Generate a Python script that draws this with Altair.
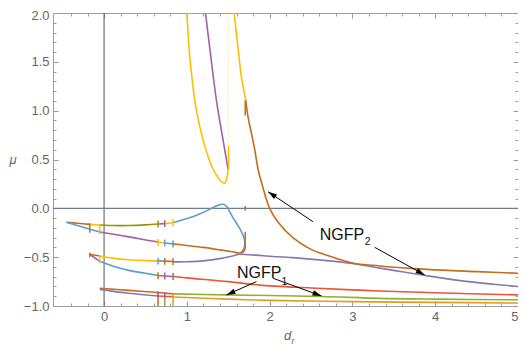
import math
import pandas as pd
import altair as alt

# ---------------- frame / ticks ----------------
X_DOMAIN = [-0.617, 5.0]
Y_DOMAIN = [-1.0, 2.0]
x_major = [0, 1, 2, 3, 4, 5]
x_minor = [-0.4, -0.2, 0.2, 0.4, 0.6, 0.8, 1.2, 1.4, 1.6, 1.8, 2.2, 2.4, 2.6, 2.8,
           3.2, 3.4, 3.6, 3.8, 4.2, 4.4, 4.6, 4.8]
y_major = [-1.0, -0.5, 0.0, 0.5, 1.0, 1.5, 2.0]
y_minor = [-0.9, -0.8, -0.7, -0.6, -0.4, -0.3, -0.2, -0.1, 0.1, 0.2, 0.3, 0.4,
           0.6, 0.7, 0.8, 0.9, 1.1, 1.2, 1.3, 1.4, 1.6, 1.7, 1.8, 1.9]

# ---------------- colours ----------------
BLUE = "#5D9EC7"
GOLD = "#FFBF00"
MAGENTA = "#A5609D"
OLIVE = "#929600"
RED = "#E95536"
BROWN = "#C56E1A"
LAVENDER = "#8778B3"
GREEN = "#8FB032"
ORANGE = "#E19C24"

# ---------------- curve segments (d_r, mu) ----------------
a1_x = [-0.455, -0.32, -0.173]; a1_y = [-0.143, -0.153, -0.164]
a2_x = [-0.173, -0.052]; a2_y = [-0.164, -0.171]
a3_x = [-0.052, 0.1, 0.3, 0.5, 0.652]; a3_y = [-0.171, -0.176, -0.176, -0.169, -0.16]
a4_x = [0.652, 0.733]; a4_y = [-0.16, -0.157]
a5_x = [0.733, 0.833]; a5_y = [-0.157, -0.148]
a6_x = [0.833, 0.95, 1.06, 1.16, 1.28, 1.37, 1.437, 1.48, 1.52, 1.56, 1.62, 1.66, 1.69, 1.70, 1.69, 1.655]
a6_y = [-0.148, -0.118, -0.088, -0.055, -0.008, 0.028, 0.041, 0.02, -0.04, -0.10, -0.18, -0.24, -0.30, -0.35, -0.41, -0.455]

b1_x = [-0.455, -0.273, -0.052]; b1_y = [-0.143, -0.188, -0.242]
b2_x = [-0.052, 0.1, 0.3, 0.49, 0.652]; b2_y = [-0.242, -0.263, -0.292, -0.322, -0.345]
b3_x = [0.652, 0.733]; b3_y = [-0.345, -0.355]
b4_x = [0.733, 0.833]; b4_y = [-0.355, -0.364]
b5_x = [0.833, 1.0, 1.2, 1.4, 1.55, 1.64, 1.68, 1.70, 1.705]
b5_y = [-0.364, -0.38, -0.40, -0.425, -0.445, -0.458, -0.448, -0.42, -0.38]

c1_x = [-0.173, -0.052]; c1_y = [-0.47, -0.488]
c2_x = [-0.052, 0.1, 0.3, 0.5, 0.652]; c2_y = [-0.488, -0.51, -0.527, -0.535, -0.538]
c3_x = [0.652, 0.733]; c3_y = [-0.538, -0.541]
c4_x = [0.733, 0.833]; c4_y = [-0.541, -0.545]
c5_x = [0.833, 1.0, 1.2, 1.4, 1.55, 1.64, 1.75, 1.88, 2.0, 2.28, 2.69, 3.0, 3.33, 3.6, 3.86, 4.3, 4.7, 5.0]
c5_y = [-0.548, -0.547, -0.538, -0.515, -0.488, -0.47, -0.475, -0.482, -0.49, -0.505, -0.535, -0.565,
        -0.612, -0.65, -0.685, -0.74, -0.777, -0.80]

d1_x = [-0.173, -0.052]; d1_y = [-0.47, -0.543]
d2_x = [-0.052, 0.1, 0.3, 0.5, 0.652]; d2_y = [-0.543, -0.59, -0.635, -0.665, -0.688]
d3_x = [0.652, 0.733]; d3_y = [-0.688, -0.693]
d4_x = [0.733, 0.833]; d4_y = [-0.693, -0.698]
d5_x = [0.833, 1.0, 1.5, 1.88, 2.5, 3.0, 3.33, 4.0, 5.0]
d5_y = [-0.698, -0.712, -0.75, -0.786, -0.815, -0.835, -0.846, -0.865, -0.886]

e1_x = [-0.052, 0.3, 0.652]; e1_y = [-0.818, -0.84, -0.862]
e2_x = [0.652, 0.833]; e2_y = [-0.862, -0.876]
e3_x = [0.833, 1.48, 2.0, 2.63, 3.33, 4.0, 5.0]; e3_y = [-0.876, -0.886, -0.893, -0.902, -0.922, -0.93, -0.936]
f1_x = [-0.052, 0.3, 0.652]; f1_y = [-0.83, -0.87, -0.897]
f2_x = [0.652, 0.833]; f2_y = [-0.897, -0.905]
f3_x = [0.833, 1.5, 2.0, 3.0, 4.0, 5.0]; f3_y = [-0.908, -0.93, -0.942, -0.955, -0.963, -0.97]

g1_x = [1.0, 1.03, 1.06, 1.095, 1.15, 1.196, 1.26, 1.317, 1.38, 1.42, 1.455, 1.48, 1.498]
g1_y = [2.0, 1.6, 1.35, 1.107, 0.86, 0.698, 0.52, 0.40, 0.31, 0.27, 0.258, 0.30, 0.40]
g2_x = [1.225, 1.277, 1.358, 1.437, 1.498]; g2_y = [2.0, 1.64, 1.10, 0.70, 0.40]
g3_x = [1.571, 1.618, 1.659, 1.711]; g3_y = [2.0, 1.64, 1.346, 1.107]
g4_x = [1.711, 1.74, 1.78, 1.82, 1.86, 1.92, 2.0, 2.1, 2.28, 2.5, 2.69, 3.0, 3.33, 3.9, 4.5, 5.0]
g4_y = [1.107, 0.93, 0.767, 0.60, 0.40, 0.21, 0.0, -0.14, -0.30, -0.42, -0.48, -0.56, -0.59, -0.625, -0.648, -0.665]

SEGMENTS = [
    ("a1", BROWN, a1_x, a1_y), ("a2", GOLD, a2_x, a2_y), ("a3", OLIVE, a3_x, a3_y),
    ("a4", MAGENTA, a4_x, a4_y), ("a5", GOLD, a5_x, a5_y), ("a6", BLUE, a6_x, a6_y),
    ("b1", BLUE, b1_x, b1_y), ("b2", MAGENTA, b2_x, b2_y), ("b3", GOLD, b3_x, b3_y),
    ("b4", BLUE, b4_x, b4_y), ("b5", BROWN, b5_x, b5_y),
    ("c1", BROWN, c1_x, c1_y), ("c2", GOLD, c2_x, c2_y), ("c3", BLUE, c3_x, c3_y),
    ("c4", BROWN, c4_x, c4_y), ("c5", LAVENDER, c5_x, c5_y),
    ("d1", MAGENTA, d1_x, d1_y), ("d2", BLUE, d2_x, d2_y), ("d3", BROWN, d3_x, d3_y),
    ("d4", MAGENTA, d4_x, d4_y), ("d5", RED, d5_x, d5_y),
    ("e1", BROWN, e1_x, e1_y), ("e2", RED, e2_x, e2_y), ("e3", GREEN, e3_x, e3_y),
    ("f1", LAVENDER, f1_x, f1_y), ("f2", RED, f2_x, f2_y), ("f3", ORANGE, f3_x, f3_y),
    ("g1", GOLD, g1_x, g1_y), ("g2", MAGENTA, g2_x, g2_y), ("g3", GOLD, g3_x, g3_y),
    ("g4", BROWN, g4_x, g4_y),
]

# vertical marks: x, y_from, y_to, colour, opacity
mark_x = [-0.173, -0.052, -0.173, -0.052,
          0.652, 0.733, 0.833,
          0.652, 0.733, 0.833,
          0.652, 0.733, 0.833,
          0.652, 0.733, 0.833,
          0.652, 0.733, 0.833, 0.652, 0.733,
          1.705, 1.705, 1.503, 1.50, 1.705]
mark_y1 = [-0.153, -0.165, -0.455, -0.477,
           -0.195, -0.192, -0.183,
           -0.385, -0.39, -0.40,
           -0.575, -0.578, -0.58,
           -0.725, -0.728, -0.733,
           -0.855, -0.87, -0.872, -0.85, -0.86,
           -0.24, 0.95, 0.40, 0.64, -0.025]
mark_y2 = [-0.25, -0.262, -0.50, -0.562,
           -0.125, -0.122, -0.113,
           -0.315, -0.32, -0.33,
           -0.505, -0.508, -0.51,
           -0.655, -0.658, -0.663,
           -1.0, -1.0, -1.0, -0.91, -0.92,
           -0.40, 1.107, 0.64, 2.0, 0.025]
mark_c = [BROWN, GOLD, BROWN, GOLD,
          OLIVE, MAGENTA, GOLD,
          GOLD, BLUE, BLUE,
          BLUE, BROWN, BROWN,
          BROWN, MAGENTA, MAGENTA,
          RED, GREEN, ORANGE, MAGENTA, MAGENTA,
          BROWN, BROWN, GOLD, GOLD, BROWN]
mark_op = [1] * 24 + [0.15, 1]

# annotations
label_text = ["NGFP", "2", "NGFP", "1"]
label_x = [2.605, 3.15, 1.606, 2.143]
label_y = [-0.324, -0.378, -0.716, -0.784]
label_size = [16, 10.5, 16, 10.5]

arrow_from_x = [2.524, 3.269, 1.841, 2.041]
arrow_from_y = [-0.137, -0.399, -0.750, -0.716]
arrow_to_x = [1.981, 3.873, 1.478, 2.626]
arrow_to_y = [0.170, -0.682, -0.887, -0.897]

# ---------------- build ----------------
W, H = 465, 293
xs = alt.Scale(domain=X_DOMAIN, nice=False, zero=False)
ys = alt.Scale(domain=Y_DOMAIN, nice=False, zero=False)
sx = W / (X_DOMAIN[1] - X_DOMAIN[0])
sy = H / (Y_DOMAIN[1] - Y_DOMAIN[0])

rows = []
for name, col, xx, yy in SEGMENTS:
    for i, (a, b) in enumerate(zip(xx, yy)):
        rows.append(dict(seg=name, col=col, x=a, y=b, o=i))
curves_df = pd.DataFrame(rows)
marks_df = pd.DataFrame(dict(x=mark_x, y=mark_y1, y2=mark_y2, col=mark_c, op=mark_op))
labels_df = pd.DataFrame(dict(t=label_text, x=label_x, y=label_y, s=label_size))
arrows_df = pd.DataFrame(dict(x=arrow_from_x, y=arrow_from_y, x2=arrow_to_x, y2=arrow_to_y))

R = 4.5
heads = []
for fx, fy, tx, ty in zip(arrow_from_x, arrow_from_y, arrow_to_x, arrow_to_y):
    Dx = (tx - fx) * sx
    Dy = -(ty - fy) * sy
    L = math.hypot(Dx, Dy)
    ux, uy = Dx / L, Dy / L
    ang = math.degrees(math.atan2(ux, -uy)) % 360
    heads.append(dict(x=tx - R * ux / sx, y=ty + R * uy / sy, a=ang))
heads_df = pd.DataFrame(heads)

FONT = "Liberation Sans"
GRAYTXT = "#666666"
TICKC = "#9a9a9a"

NOX = dict(scale=xs, axis=None)
NOY = dict(scale=ys, axis=None)

zero_v = alt.Chart(pd.DataFrame({"x": [0.0]})).mark_rule(color="#555555", strokeWidth=1).encode(
    x=alt.X("x:Q", **NOX))
zero_h = alt.Chart(pd.DataFrame({"y": [0.0]})).mark_rule(color="#6f7d8b", strokeWidth=1.3).encode(
    y=alt.Y("y:Q", **NOY))

curves = alt.Chart(curves_df).mark_line(strokeWidth=1.6, interpolate="catmull-rom").encode(
    x=alt.X("x:Q", **NOX), y=alt.Y("y:Q", **NOY),
    detail="seg:N", order="o:Q", color=alt.Color("col:N", scale=None))

vmarks = alt.Chart(marks_df).mark_rule(strokeWidth=1.5).encode(
    x=alt.X("x:Q", **NOX), y=alt.Y("y:Q", **NOY), y2="y2:Q",
    color=alt.Color("col:N", scale=None), opacity=alt.Opacity("op:Q", scale=None))

arrows = alt.Chart(arrows_df).mark_rule(color="black", strokeWidth=1).encode(
    x=alt.X("x:Q", **NOX), y=alt.Y("y:Q", **NOY), x2="x2:Q", y2="y2:Q")

heads_l = alt.Chart(heads_df).mark_point(
    shape="M0,-1L0.6,1L-0.6,1Z", filled=True, color="black", opacity=1, size=81, strokeWidth=0
).encode(x=alt.X("x:Q", **NOX), y=alt.Y("y:Q", **NOY), angle=alt.Angle("a:Q", scale=None))

labels = alt.Chart(labels_df).mark_text(align="left", baseline="alphabetic", font=FONT, color="#111111").encode(
    x=alt.X("x:Q", **NOX), y=alt.Y("y:Q", **NOY), text="t:N", size=alt.Size("s:Q", scale=None))

mu = alt.Chart(pd.DataFrame({"t": ["μ"]})).mark_text(
    font=FONT, fontSize=13, fontStyle="italic", color=GRAYTXT, align="center", baseline="alphabetic"
).encode(text="t:N", x=alt.value(-40), y=alt.value(151))
d_t = alt.Chart(pd.DataFrame({"t": ["d"]})).mark_text(
    font=FONT, fontSize=13, fontStyle="italic", color=GRAYTXT, align="left", baseline="alphabetic"
).encode(text="t:N", x=alt.value(231), y=alt.value(327))
r_t = alt.Chart(pd.DataFrame({"t": ["r"]})).mark_text(
    font=FONT, fontSize=8.5, fontStyle="italic", color=GRAYTXT, align="left", baseline="alphabetic"
).encode(text="t:N", x=alt.value(238.5), y=alt.value(330.5))

dummy = pd.DataFrame({"x": [1.0], "y": [0.5]})


def axis_layer(xaxis=None, yaxis=None):
    return alt.Chart(dummy).mark_point(opacity=0).encode(
        x=alt.X("x:Q", scale=xs, axis=xaxis),
        y=alt.Y("y:Q", scale=ys, axis=yaxis))


def ax(orient, values, size, labels=False, fmt=None, flush=False, loff=None):
    kw = dict(orient=orient, values=values, tickSize=size, offset=-size, domain=False,
              grid=False, labels=labels, tickColor=TICKC, tickWidth=1, title=None,
              labelFlush=flush, labelOverlap=False)
    if labels:
        kw.update(labelFont=FONT, labelFontSize=13, labelColor=GRAYTXT, labelPadding=4)
        if fmt:
            kw["format"] = fmt
    if loff is not None:
        kw["labelOffset"] = loff
    return alt.Axis(**kw)


top_label_shift = {"condition": {"test": "datum.value == 2", "value": 2}, "value": 0}

axes = [
    axis_layer(xaxis=ax("bottom", x_major, 5, True, "d", flush=True)),
    axis_layer(xaxis=ax("bottom", x_minor, 3)),
    axis_layer(xaxis=ax("top", x_major, 5)),
    axis_layer(xaxis=ax("top", x_minor, 3)),
    axis_layer(yaxis=ax("left", y_major, 5, True, ".1f", loff=top_label_shift)),
    axis_layer(yaxis=ax("left", y_minor, 3)),
    axis_layer(yaxis=ax("right", y_major, 5)),
    axis_layer(yaxis=ax("right", y_minor, 3)),
]

chart = alt.layer(
    zero_v, zero_h, curves, vmarks, arrows, heads_l, labels, mu, d_t, r_t, *axes
).resolve_axis(x="independent", y="independent").properties(
    width=W, height=H,
    autosize=alt.AutoSizeParams(type="none"),
    padding={"left": 45, "top": 5, "right": 0, "bottom": 40},
).configure_view(stroke="#a0a0a0", strokeWidth=1)

chart.save("out.html", embed_options={"renderer": "svg", "actions": False})
